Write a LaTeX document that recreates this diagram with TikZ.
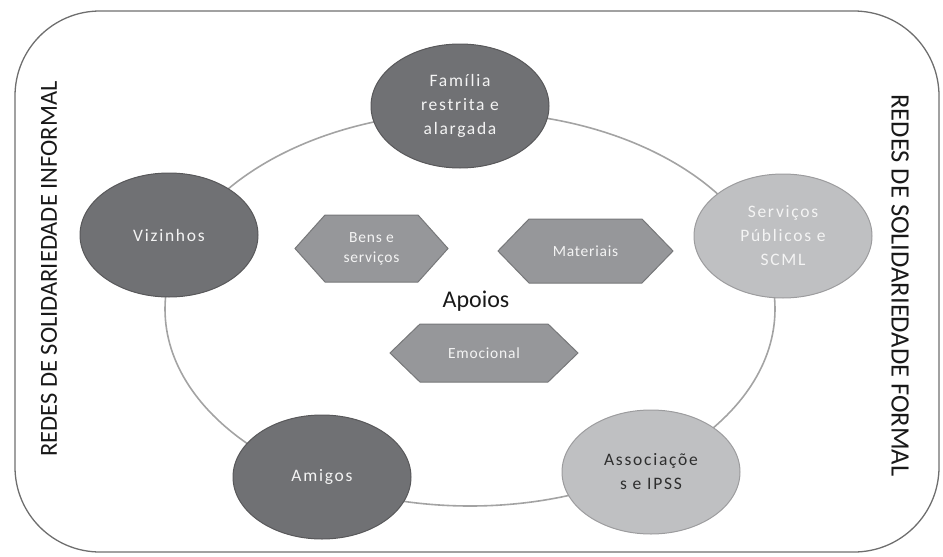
\documentclass[tikz,border=0pt]{standalone}
\usepackage{fontspec}
\setmainfont{Carlito}
\newfontfamily\spaced{Carlito}[LetterSpace=10]
\newfontfamily\hexfont{Carlito}[LetterSpace=5]
\usetikzlibrary{shapes.geometric}
\definecolor{darkfill}{HTML}{707174}
\definecolor{darkline}{HTML}{58585A}
\definecolor{lightfill}{HTML}{BFC0C2}
\definecolor{lightline}{HTML}{9C9C9E}
\definecolor{hexfill}{HTML}{96979A}
\definecolor{hexline}{HTML}{77787A}
\definecolor{ringcol}{HTML}{A3A3A3}
\definecolor{framecol}{HTML}{6E6E6E}
\definecolor{txtlight}{HTML}{F4F4F4}
\definecolor{txtdark}{HTML}{2E2E2E}
\tikzset{
  blob/.style={ellipse, minimum width=178pt, minimum height=124pt, inner sep=0pt,
    align=center, line width=1pt, font=\spaced\fontsize{17.5}{24}\selectfont},
  darkblob/.style={blob, fill=darkfill, draw=darkline, text=txtlight},
  lightblob/.style={blob, fill=lightfill, draw=lightline},
  hexsty/.style={fill=hexfill, draw=hexline, line width=1pt},
  hextext/.style={align=center, text=txtlight, font=\hexfont\fontsize{15.5}{20}\selectfont, inner sep=0pt},
  ringsty/.style={draw=ringcol, line width=1.6pt},
  framesty/.style={draw=framecol, line width=1.3pt, rounded corners=85pt},
  sidelabel/.style={text=black!90, inner sep=0pt}
}
\begin{document}
\begin{tikzpicture}[x=1pt,y=-1pt]
\useasboundingbox (0,0) rectangle (943,557);
% outer frame
\draw[framesty] (15,11) rectangle (939,552);
% side labels
\node[sidelabel, rotate=90, font=\fontsize{24.5}{28}\selectfont] (informal) at (49,269) {REDES DE SOLIDARIEDADE INFORMAL};
\node[sidelabel, rotate=-90, font=\fontsize{26.5}{30}\selectfont] (formal) at (900,285.5) {REDES DE SOLIDARIEDADE FORMAL};
% ring
\coordinate (ringc) at (470,309);
\draw[ringsty] (ringc) ellipse [x radius=305pt, y radius=197pt];
% ellipses
\node[darkblob] (familia) at (460,106) {Família\\restrita e\\alargada};
\node[darkblob] (vizinhos) at (169,235) {Vizinhos};
\node[lightblob, text=txtlight] (servicos) at (783,236) {Serviços\\Públicos e\\SCML};
\node[darkblob] (amigos) at (322,477) {Amigos};
\node[lightblob, text=txtdark] (assoc) at (651,472) {Associaçõe\\s e IPSS};
% hexagons
\begin{scope}[shift={(371.5,248.5)}]
\draw[hexsty] (-76.5,0) -- (-46.5,-33.5) -- (46.5,-33.5) -- (76.5,0) -- (46.5,33.5) -- (-46.5,33.5) -- cycle;
\end{scope}
\node[hextext] (bens) at (371.5,248.5) {Bens e\\serviços};
\begin{scope}[shift={(585.5,251)}]
\draw[hexsty] (-87.5,0) -- (-56.5,-32) -- (56.5,-32) -- (87.5,0) -- (56.5,32) -- (-56.5,32) -- cycle;
\end{scope}
\node[hextext] (materiais) at (585.5,251) {Materiais};
\begin{scope}[shift={(484,353)}]
\draw[hexsty] (-94,0) -- (-64,-29) -- (64,-29) -- (94,0) -- (64,29) -- (-64,29) -- cycle;
\end{scope}
\node[hextext] (emocional) at (484,353) {Emocional};
% centre label
\node[font=\fontsize{24}{28}\selectfont, text=black!90, inner sep=0pt] (apoios) at (476,301) {Apoios};
\end{tikzpicture}
\end{document}
